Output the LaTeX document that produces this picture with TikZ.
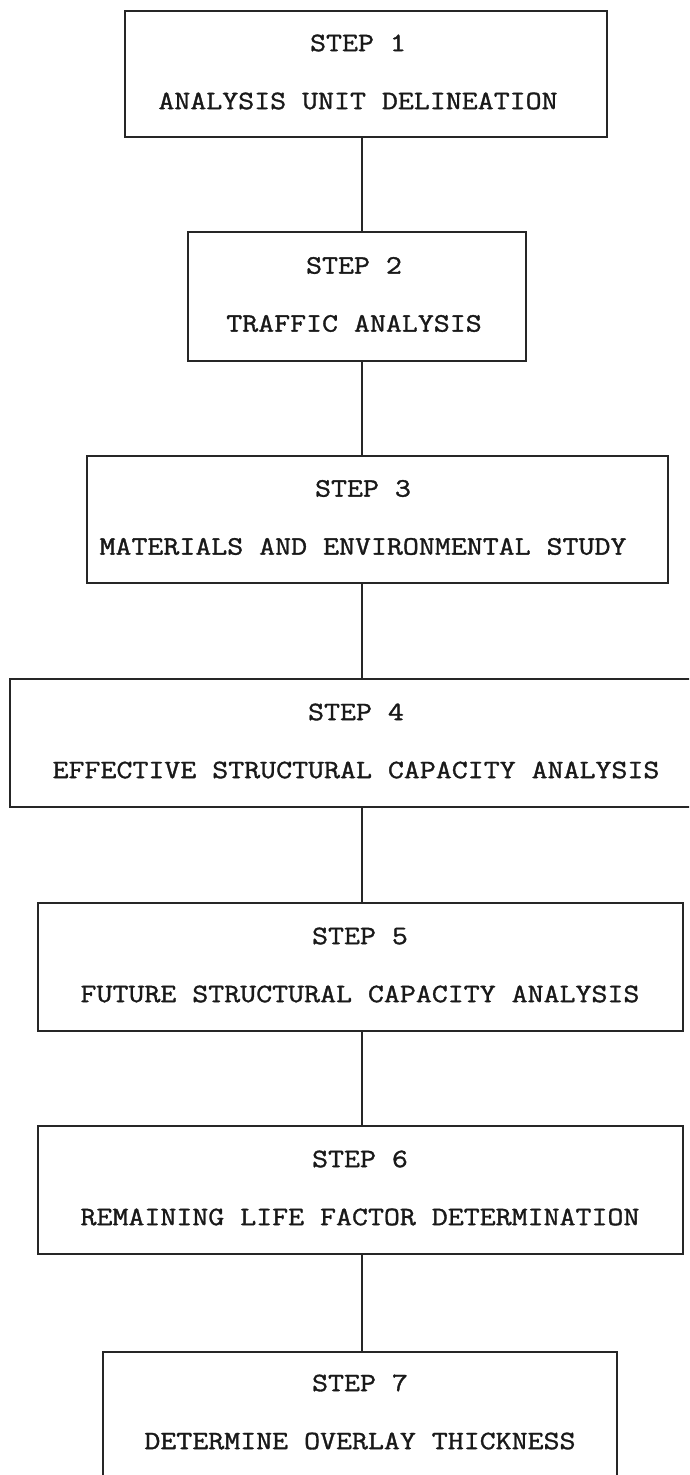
\documentclass[tikz,border=0pt]{standalone}
\usepackage{fontspec}
\newfontfamily\stepfont{Latin Modern Mono}[FakeStretch=1.17,FakeBold=1.3]
\begin{document}
\begin{tikzpicture}[x=1pt,y=-1pt,
  stepbox/.style={draw=black!85, line width=1.8pt, inner sep=0pt},
  steptext/.style={align=center, inner sep=0pt, text=black!90,
    font=\stepfont\fontsize{26.5}{30}\selectfont},
  link/.style={draw=black!85, line width=1.8pt}]
\clip (0,0) rectangle (689,1475);
\coordinate (spine) at (362,0);

% step boxes (centre, width, height in pixels of the sheet)
\node[stepbox, minimum width=482pt, minimum height=126pt] (b1) at (366,74) {};
\node[stepbox, minimum width=338pt, minimum height=129pt] (b2) at (357,296.5) {};
\node[stepbox, minimum width=581pt, minimum height=127pt] (b3) at (377.5,519.5) {};
\node[stepbox, minimum width=704pt, minimum height=128pt] (b4) at (362,743) {};
\node[stepbox, minimum width=645pt, minimum height=128pt] (b5) at (360.5,967) {};
\node[stepbox, minimum width=645pt, minimum height=128pt] (b6) at (360.5,1190) {};
\node[stepbox, minimum width=514pt, minimum height=128pt] (b7) at (360,1416) {};

% step captions
\node[steptext] (t1) at (358,72) {STEP 1\\[28pt]ANALYSIS UNIT DELINEATION};
\node[steptext] (t2) at (354,294.5) {STEP 2\\[28pt]TRAFFIC ANALYSIS};
\node[steptext] (t3) at (363,517.5) {STEP 3\\[28pt]MATERIALS AND ENVIRONMENTAL STUDY};
\node[steptext] (t4) at (356,741) {STEP 4\\[28pt]EFFECTIVE STRUCTURAL CAPACITY ANALYSIS};
\node[steptext] (t5) at (360,965) {STEP 5\\[28pt]FUTURE STRUCTURAL CAPACITY ANALYSIS};
\node[steptext] (t6) at (360,1188) {STEP 6\\[28pt]REMAINING LIFE FACTOR DETERMINATION};
\node[steptext] (t7) at (360,1412) {STEP 7\\[28pt]DETERMINE OVERLAY THICKNESS};

% connectors between consecutive steps
\foreach \a/\b in {b1/b2,b2/b3,b3/b4,b4/b5,b5/b6,b6/b7}
  \draw[link] (\a.south -| spine) -- (\b.north -| spine);
\end{tikzpicture}
\end{document}
